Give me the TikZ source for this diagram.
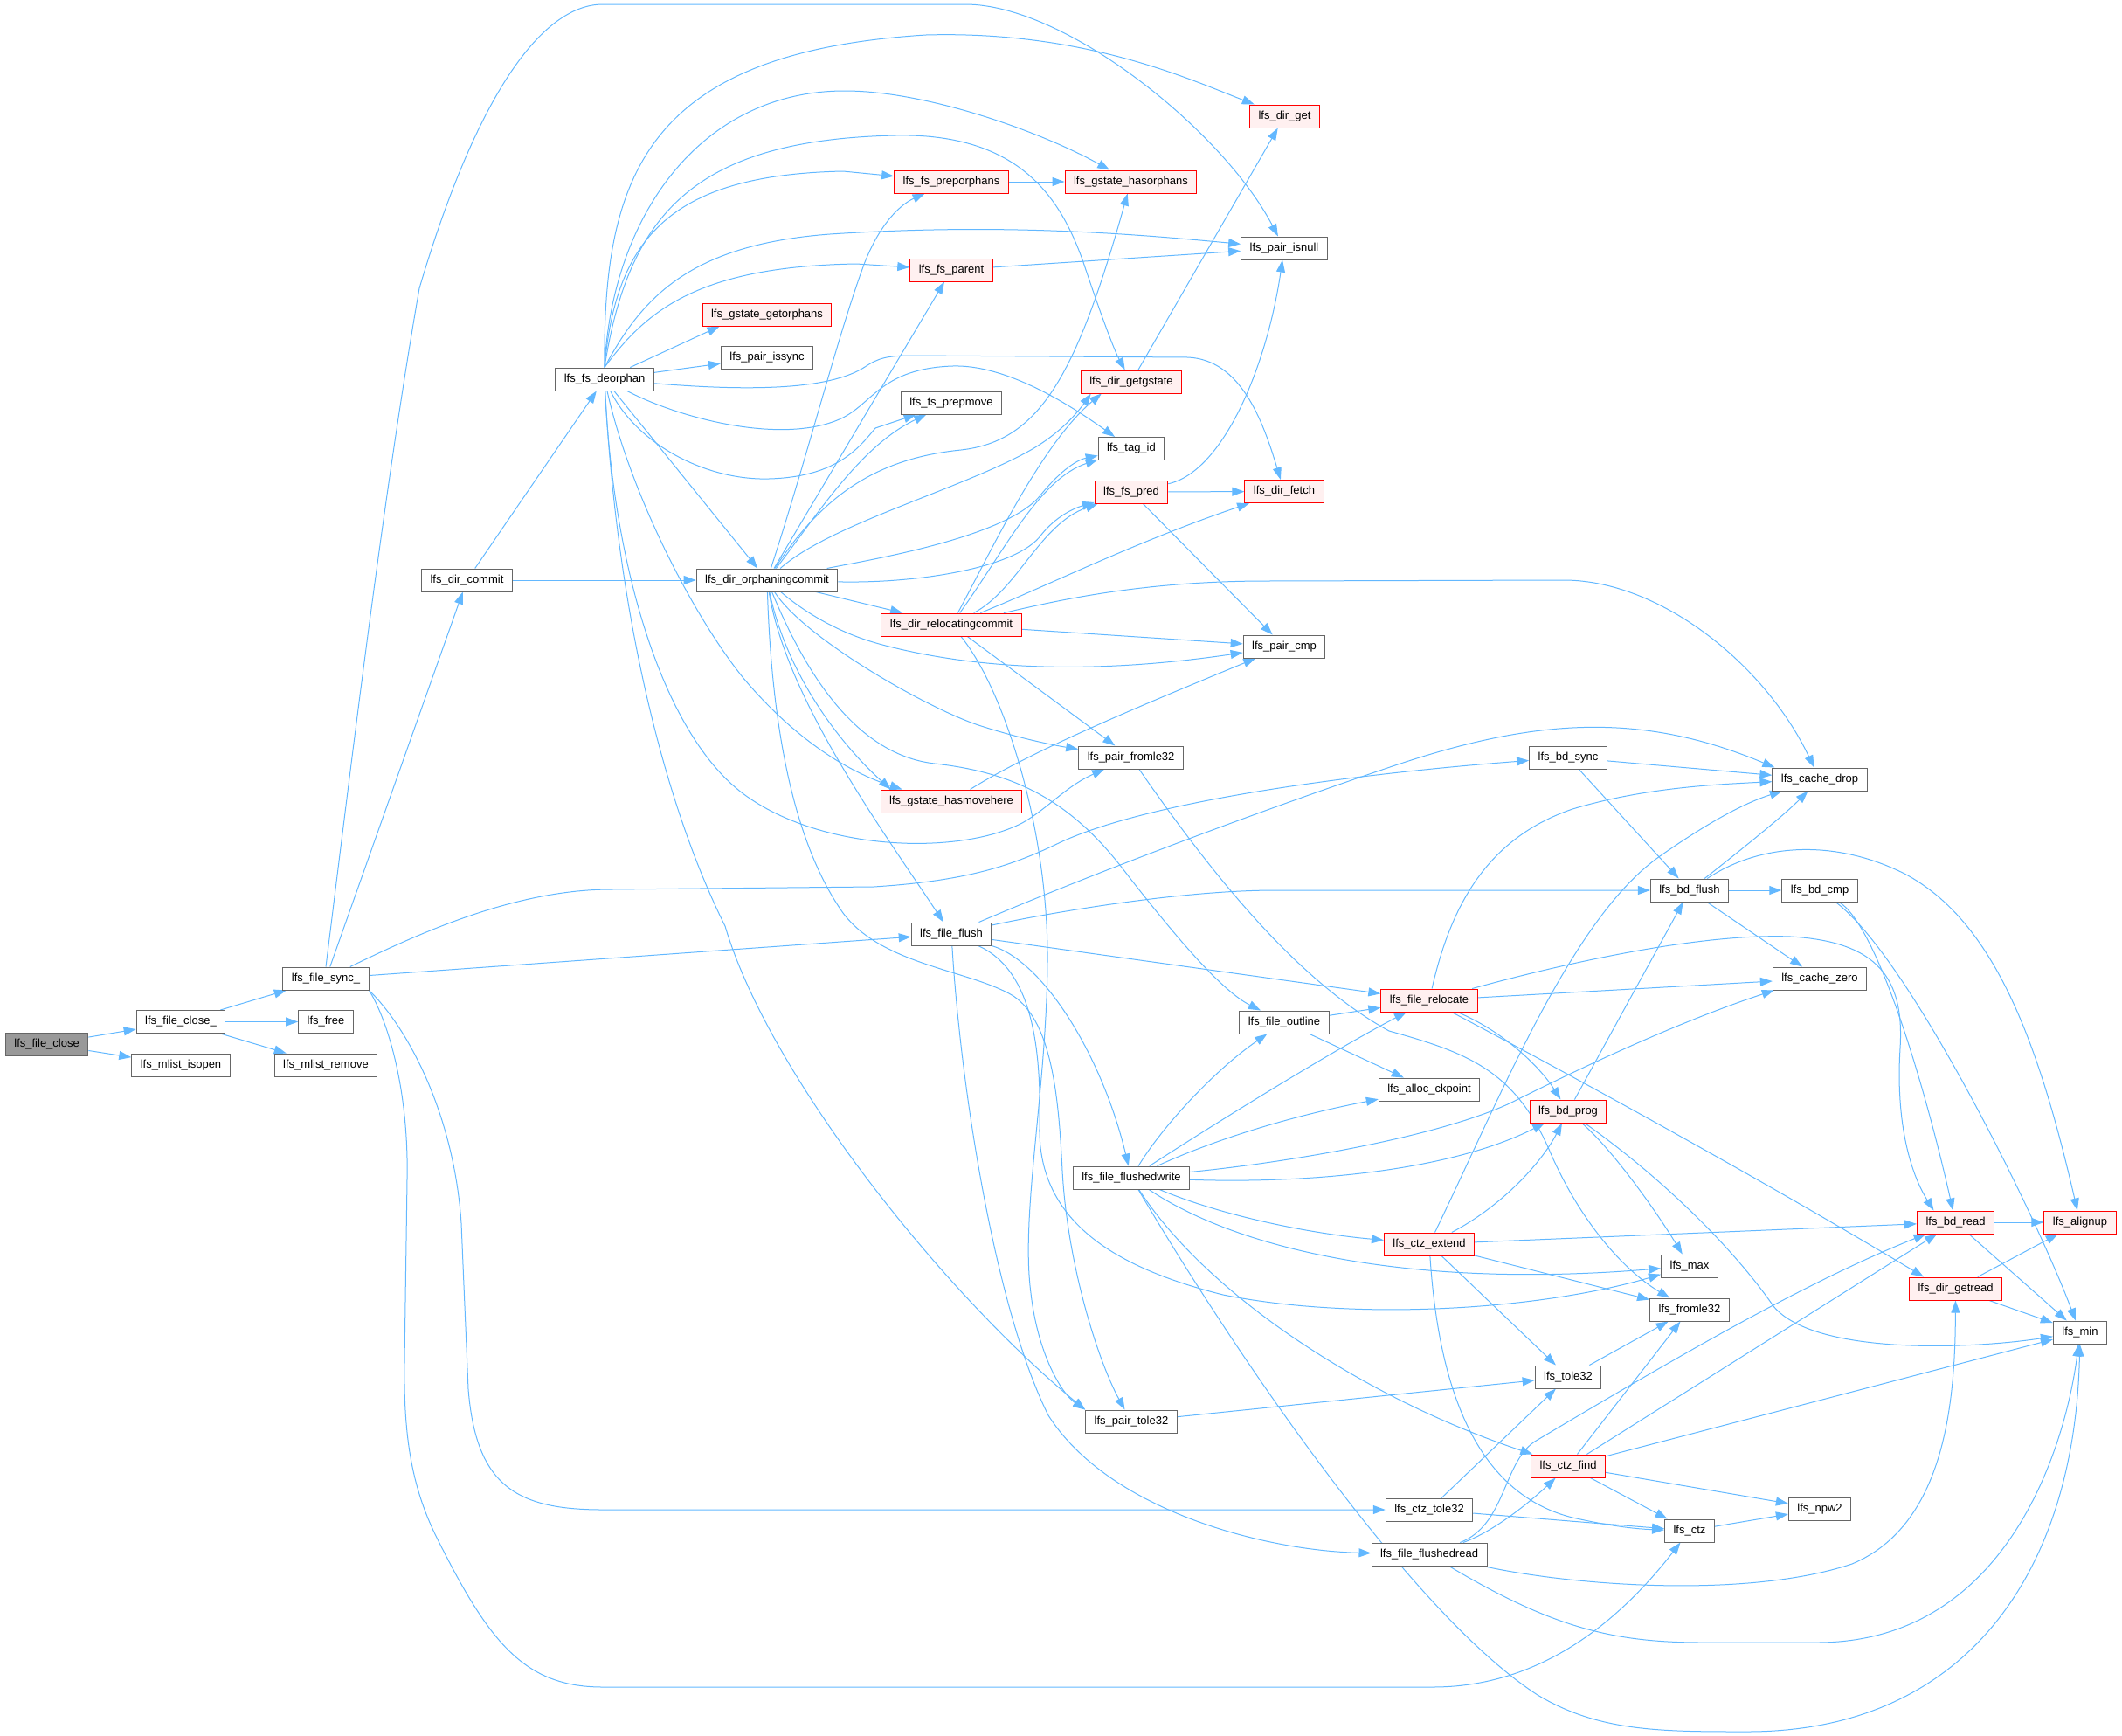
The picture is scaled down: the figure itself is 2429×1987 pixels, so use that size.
\documentclass[tikz,border=0pt]{standalone}
\usepackage{fontspec}
\setmainfont{Liberation Sans}
\usetikzlibrary{arrows.meta}
\pgfdeclarelayer{bg}
\pgfsetlayers{bg,main}
\definecolor{edgeblue}{HTML}{63B8FF}
\definecolor{nodegray}{HTML}{666666}
\definecolor{redfill}{HTML}{FFF0F0}
\definecolor{rootfill}{HTML}{999999}
\tikzset{
  fn/.style={draw=nodegray, fill=white, line width=1pt, inner xsep=10pt, inner ysep=0pt,
    minimum height=26pt, text=black, font=\fontsize{13pt}{15pt}\selectfont},
  hot/.style={fn, draw=red, fill=redfill},
  rootn/.style={fn, fill=rootfill},
  callarrow/.style={draw=edgeblue, line width=1pt, -{Triangle[length=14pt,width=10pt]}}
}
\begin{document}
\begin{tikzpicture}[x=1pt,y=-1pt]
\useasboundingbox (0,0) rectangle (2429,1987);
% nodes
\node[rootn] (n0) at (53.6,1195) {lfs\_file\_close};
\node[fn] (n1) at (207,1169.5) {lfs\_file\_close\_};
\node[fn] (n2) at (207,1219) {lfs\_mlist\_isopen};
\node[fn] (n3) at (373,1120) {lfs\_file\_sync\_};
\node[fn] (n4) at (373,1169.5) {lfs\_free};
\node[fn] (n5) at (373,1219) {lfs\_mlist\_remove};
\node[fn] (n6) at (534.5,664) {lfs\_dir\_commit};
\node[fn] (n7) at (692,434) {lfs\_fs\_deorphan};
\node[fn] (n8) at (878,664) {lfs\_dir\_orphaningcommit};
\node[hot] (n9) at (878,360) {lfs\_gstate\_getorphans};
\node[fn] (n10) at (878,409) {lfs\_pair\_issync};
\node[hot] (n11) at (1089,208) {lfs\_fs\_preporphans};
\node[hot] (n12) at (1089,309) {lfs\_fs\_parent};
\node[fn] (n13) at (1089,461) {lfs\_fs\_prepmove};
\node[hot] (n14) at (1089,715) {lfs\_dir\_relocatingcommit};
\node[hot] (n15) at (1089,917) {lfs\_gstate\_hasmovehere};
\node[fn] (n16) at (1089,1069) {lfs\_file\_flush};
\node[hot] (n17) at (1294.5,208) {lfs\_gstate\_hasorphans};
\node[hot] (n18) at (1295,437) {lfs\_dir\_getgstate};
\node[fn] (n19) at (1295,513.5) {lfs\_tag\_id};
\node[hot] (n20) at (1295,563) {lfs\_fs\_pred};
\node[fn] (n21) at (1294.6,867) {lfs\_pair\_fromle32};
\node[fn] (n22) at (1295,1348) {lfs\_file\_flushedwrite};
\node[fn] (n23) at (1295,1627) {lfs\_pair\_tole32};
\node[hot] (n24) at (1470.5,133) {lfs\_dir\_get};
\node[fn] (n25) at (1470,284) {lfs\_pair\_isnull};
\node[hot] (n26) at (1470,562.5) {lfs\_dir\_fetch};
\node[fn] (n27) at (1470,740) {lfs\_pair\_cmp};
\node[fn] (n28) at (1470,1170) {lfs\_file\_outline};
\node[hot] (n29) at (1636,1145) {lfs\_file\_relocate};
\node[fn] (n30) at (1636,1247) {lfs\_alloc\_ckpoint};
\node[hot] (n31) at (1636,1424) {lfs\_ctz\_extend};
\node[fn] (n32) at (1636,1728) {lfs\_ctz\_tole32};
\node[fn] (n33) at (1636,1779) {lfs\_file\_flushedread};
\node[fn] (n34) at (1795,867) {lfs\_bd\_sync};
\node[hot] (n35) at (1795,1272) {lfs\_bd\_prog};
\node[fn] (n36) at (1795,1576) {lfs\_tole32};
\node[hot] (n37) at (1795,1678) {lfs\_ctz\_find};
\node[fn] (n38) at (1934,1019) {lfs\_bd\_flush};
\node[fn] (n39) at (1934,1449) {lfs\_max};
\node[fn] (n40) at (1934,1499) {lfs\_fromle32};
\node[fn] (n41) at (1934,1752) {lfs\_ctz};
\node[fn] (n42) at (2083,892) {lfs\_cache\_drop};
\node[fn] (n43) at (2083,1019) {lfs\_bd\_cmp};
\node[fn] (n44) at (2083,1120) {lfs\_cache\_zero};
\node[fn] (n45) at (2083,1727) {lfs\_npw2};
\node[hot] (n46) at (2238.5,1399) {lfs\_bd\_read};
\node[hot] (n47) at (2238.5,1475) {lfs\_dir\_getread};
\node[hot] (n48) at (2381,1399) {lfs\_alignup};
\node[fn] (n49) at (2381,1525) {lfs\_min};

\begin{pgfonlayer}{bg}
% root and close
\draw[callarrow] (n0) -- (n1);
\draw[callarrow] (n0) -- (n2);
\draw[callarrow] (n1) -- (n3);
\draw[callarrow] (n1) -- (n4);
\draw[callarrow] (n1) -- (n5);
% file_sync_
\draw[callarrow] (n3) -- (n6);
\draw[callarrow] (n3.north) .. controls (405,850) and (440,560) .. (480,330) .. controls (545,110) and (620,5) .. (690,5) -- (1105,5) .. controls (1220,5) and (1400,150) .. (n25);
\draw[callarrow] (n3) -- (n16);
\draw[callarrow] (n3) .. controls (480,1068) and (590,1018) .. (700,1018) -- (1000,1015) .. controls (1110,1008) and (1160,990) .. (1214,964) .. controls (1320,915) and (1560,885) .. (n34);
\draw[callarrow] (n3.south east) .. controls (470,1180) and (520,1280) .. (528,1400) -- (536,1590) .. controls (545,1700) and (590,1728) .. (690,1728) -- (n32);
\draw[callarrow] (n3.south east) .. controls (445,1170) and (468,1250) .. (466,1350) -- (463,1560) .. controls (462,1640) and (470,1700) .. (500,1760) .. controls (560,1880) and (600,1931) .. (690,1931) -- (1640,1931) .. controls (1760,1931) and (1850,1860) .. (n41);
% dir_commit
\draw[callarrow] (n6) -- (n7);
\draw[callarrow] (n6) -- (n8);
% fs_deorphan
\draw[callarrow] (n7.north) .. controls (690,200) and (740,60) .. (1060,40) .. controls (1240,35) and (1360,90) .. (n24);
\draw[callarrow] (n7.north) .. controls (700,250) and (800,104) .. (967,104) .. controls (1060,104) and (1190,150) .. (n17);
\draw[callarrow] (n7.north) .. controls (720,240) and (800,160) .. (1025,155) .. controls (1170,152) and (1215,230) .. (1240,300) .. controls (1260,360) and (1275,400) .. (n18);
\draw[callarrow] (n7.north) .. controls (705,270) and (770,200) .. (965,196) -- (n11);
\draw[callarrow] (n7.north) .. controls (735,340) and (790,280) .. (950,268) .. controls (1150,255) and (1300,268) .. (n25);
\draw[callarrow] (n7.north) .. controls (740,355) and (800,305) .. (980,302) -- (n12);
\draw[callarrow] (n7) -- ([xshift=20pt]n9.south west);
\draw[callarrow] (n7) -- (n10);
\draw[callarrow] (n7) .. controls (860,448) and (950,446) .. (990,420) .. controls (1005,410) and (1015,407) .. (1045,407) -- (1360,409) .. controls (1420,412) and (1445,480) .. (n26);
\draw[callarrow] (n7) .. controls (780,480) and (900,510) .. (965,478) .. controls (1000,460) and (1010,422) .. (1090,419) .. controls (1150,417) and (1220,460) .. (n19);
\draw[callarrow] (n7) .. controls (730,510) and (810,550) .. (880,548) .. controls (960,546) and (985,510) .. (1002,490) -- (n13);
\draw[callarrow] (n7) -- (n8);
\draw[callarrow] (n7) .. controls (720,560) and (790,700) .. (850,775) .. controls (900,835) and (960,880) .. ([xshift=25pt]n15.north west);
\draw[callarrow] (n7) .. controls (702,650) and (760,850) .. (860,915) .. controls (950,975) and (1100,978) .. (1170,942) .. controls (1200,925) and (1220,900) .. (n21);
\draw[callarrow] (n7) .. controls (706,700) and (760,920) .. (830,1060) .. controls (880,1230) and (1080,1480) .. (n23.north west);
% dir_orphaningcommit
\draw[callarrow] (n8) .. controls (925,520) and (960,380) .. (990,300) .. controls (1010,250) and (1035,232) .. (n11);
\draw[callarrow] (n8) -- (n12);
\draw[callarrow] (n8) .. controls (935,590) and (985,510) .. (n13);
\draw[callarrow] (n8) .. controls (940,570) and (1000,525) .. (1100,515) .. controls (1190,505) and (1232,430) .. (n17);
\draw[callarrow] (n8) .. controls (950,600) and (1100,560) .. (1180,515) .. controls (1215,495) and (1235,470) .. ([xshift=12pt]n18.south west);
\draw[callarrow] (n8) .. controls (1000,640) and (1150,615) .. (1190,568) .. controls (1210,543) and (1230,527) .. (n19);
\draw[callarrow] (n8) .. controls (1050,668) and (1165,650) .. (1192,612) .. controls (1208,592) and (1228,582) .. (n20);
\draw[callarrow] (n8) -- (n14);
\draw[callarrow] (n8) .. controls (920,700) and (960,725) .. (1010,738) .. controls (1150,775) and (1300,765) .. (n27);
\draw[callarrow] (n8) .. controls (920,730) and (1060,810) .. (1120,830) .. controls (1160,843) and (1200,852) .. (n21);
\draw[callarrow] (n8) .. controls (900,770) and (960,850) .. ([xshift=12pt]n15.north west);
\draw[callarrow] (n8) .. controls (900,800) and (1010,950) .. (n16);
\draw[callarrow] (n8) .. controls (930,790) and (990,865) .. (1070,874) .. controls (1160,884) and (1225,915) .. (1288,998) .. controls (1350,1078) and (1400,1135) .. (n28);
\draw[callarrow] (n8) .. controls (883,820) and (905,960) .. (965,1045) .. controls (1010,1105) and (1110,1110) .. (1160,1140) .. controls (1205,1170) and (1212,1260) .. (1216,1340) .. controls (1222,1450) and (1258,1560) .. (n23);
% dir_relocatingcommit
\draw[callarrow] (n14) .. controls (1130,640) and (1190,510) .. ([xshift=24pt]n18.south west);
\draw[callarrow] (n14) .. controls (1150,630) and (1190,548) .. (n19);
\draw[callarrow] (n14) .. controls (1165,675) and (1190,600) .. (n20);
\draw[callarrow] (n14) .. controls (1200,670) and (1300,620) .. (n26);
\draw[callarrow] (n14) .. controls (1200,690) and (1300,665) .. (1450,665) -- (1790,664) .. controls (1900,664) and (2020,760) .. (n42);
\draw[callarrow] (n14) -- (n27);
\draw[callarrow] (n14) -- (n21);
\draw[callarrow] (n14) .. controls (1150,790) and (1200,950) .. (1199,1100) .. controls (1198,1250) and (1168,1390) .. (1180,1480) .. controls (1188,1550) and (1215,1595) .. (n23.north west);
% misc
\draw[callarrow] (n11) -- (n17);
\draw[callarrow] (n12) -- (n25);
\draw[callarrow] (n18) -- (n24);
\draw[callarrow] (n20) .. controls (1400,540) and (1450,420) .. (n25);
\draw[callarrow] (n20) -- (n26);
\draw[callarrow] (n20) -- (n27);
\draw[callarrow] (n15) .. controls (1180,860) and (1300,810) .. (n27);
\draw[callarrow] (n21) .. controls (1380,990) and (1480,1120) .. (1590,1180) .. controls (1680,1205) and (1735,1225) .. (1775,1320) .. controls (1810,1400) and (1860,1455) .. (n40);
\draw[callarrow] (n23) -- (n36);
% file_flush
\draw[callarrow] (n16) .. controls (1250,1000) and (1450,925) .. (1600,875) .. controls (1760,822) and (1880,815) .. ([xshift=3pt]n42.north west);
\draw[callarrow] (n16) .. controls (1200,1045) and (1350,1019) .. (1460,1019) -- (n38);
\draw[callarrow] (n16) -- (n29);
\draw[callarrow] (n16) .. controls (1195,1100) and (1262,1210) .. (n22);
\draw[callarrow] (n16) .. controls (1100,1250) and (1140,1500) .. (1200,1620) .. controls (1270,1730) and (1450,1775) .. (n33);
\draw[callarrow] (n16) .. controls (1182,1110) and (1192,1200) .. (1190,1290) .. controls (1188,1400) and (1280,1452) .. (1400,1482) .. controls (1550,1512) and (1760,1500) .. (n39);
% file_outline
\draw[callarrow] (n28) -- (n29);
\draw[callarrow] (n28) -- (n30);
% file_relocate
\draw[callarrow] (n29) .. controls (1660,1040) and (1700,960) .. (1800,926) .. controls (1880,902) and (1960,898) .. (n42);
\draw[callarrow] (n29) .. controls (1800,1100) and (1950,1068) .. (2050,1072) .. controls (2150,1078) and (2180,1120) .. (2175,1200) .. controls (2170,1280) and (2185,1340) .. ([xshift=-25pt]n46.north);
\draw[callarrow] (n29) -- (n44);
\draw[callarrow] (n29) .. controls (1720,1180) and (1762,1220) .. (n35);
\draw[callarrow] (n29) .. controls (1760,1210) and (2000,1340) .. ([xshift=17pt]n47.north west);
% file_flushedwrite
\draw[callarrow] (n22) .. controls (1330,1290) and (1390,1225) .. (n28);
\draw[callarrow] (n22) .. controls (1400,1280) and (1530,1200) .. (n29);
\draw[callarrow] (n22) .. controls (1400,1300) and (1490,1275) .. (n30);
\draw[callarrow] (n22) .. controls (1480,1330) and (1650,1300) .. (1730,1262) .. controls (1810,1222) and (1920,1170) .. ([xshift=2pt]n44.south west);
\draw[callarrow] (n22) .. controls (1500,1355) and (1660,1340) .. (n35);
\draw[callarrow] (n22) .. controls (1400,1392) and (1500,1412) .. (n31);
\draw[callarrow] (n22) .. controls (1420,1432) and (1620,1475) .. (n39);
\draw[callarrow] (n22) .. controls (1380,1480) and (1560,1600) .. (n37);
\draw[callarrow] (n22) .. controls (1420,1560) and (1620,1850) .. (1760,1940) .. controls (1830,1982) and (1900,1982) .. (2000,1982) .. controls (2250,1982) and (2375,1800) .. (n49);
% ctz_extend
\draw[callarrow] (n31) .. controls (1720,1380) and (1765,1330) .. (n35);
\draw[callarrow] (n31) -- (n46);
\draw[callarrow] (n31) .. controls (1720,1250) and (1800,1050) .. (1900,980) .. controls (1960,938) and (2000,918) .. (n42);
\draw[callarrow] (n31) -- (n40);
\draw[callarrow] (n31) -- (n36);
\draw[callarrow] (n31) .. controls (1648,1610) and (1700,1712) .. (1800,1737) .. controls (1840,1746) and (1870,1750) .. (n41);
% ctz_tole32
\draw[callarrow] (n32) -- (n36);
\draw[callarrow] (n32) -- (n41);
% file_flushedread
\draw[callarrow] (n33) .. controls (1705,1755) and (1745,1725) .. (n37);
\draw[callarrow] (n33) .. controls (1725,1745) and (1720,1670) .. (1760,1648) .. controls (1900,1565) and (2060,1470) .. (n46);
\draw[callarrow] (n33) .. controls (1800,1815) and (2000,1830) .. (2120,1790) .. controls (2228,1745) and (2238,1600) .. (n47);
\draw[callarrow] (n33) .. controls (1780,1865) and (1850,1880) .. (1950,1880) -- (2080,1880) .. controls (2300,1880) and (2365,1650) .. (n49);
% bd_sync, bd_flush, bd_cmp, bd_prog
\draw[callarrow] (n34) -- (n42);
\draw[callarrow] (n34) -- (n38);
\draw[callarrow] (n38) .. controls (1990,975) and (2040,935) .. (n42);
\draw[callarrow] (n38) -- (n43);
\draw[callarrow] (n38) -- (n44);
\draw[callarrow] (n38) .. controls (2015,965) and (2100,960) .. (2180,1000) .. controls (2285,1055) and (2335,1200) .. (n48);
\draw[callarrow] (n43) .. controls (2150,1060) and (2205,1250) .. (n46);
\draw[callarrow] (n43) .. controls (2185,1095) and (2330,1390) .. (n49);
\draw[callarrow] (n35) -- (n38);
\draw[callarrow] (n35) .. controls (1845,1315) and (1895,1385) .. (n39);
\draw[callarrow] (n35) .. controls (1905,1350) and (1985,1430) .. (2030,1495) .. controls (2075,1550) and (2250,1545) .. (n49);
% leaves
\draw[callarrow] (n36) -- (n40);
\draw[callarrow] (n37) -- (n46);
\draw[callarrow] (n37) -- (n40);
\draw[callarrow] (n37) -- (n49);
\draw[callarrow] (n37) -- (n45);
\draw[callarrow] (n37) -- (n41);
\draw[callarrow] (n41) -- (n45);
\draw[callarrow] (n46) -- (n48);
\draw[callarrow] (n46) -- (n49);
\draw[callarrow] (n47) -- (n48);
\draw[callarrow] (n47) -- (n49);
\end{pgfonlayer}
\end{tikzpicture}
\end{document}
